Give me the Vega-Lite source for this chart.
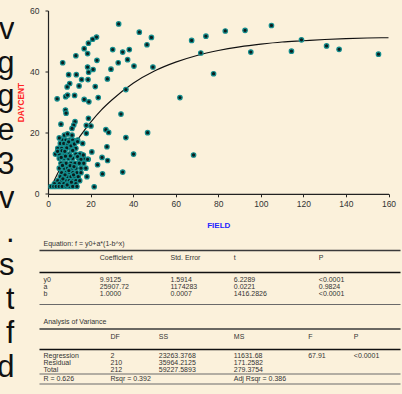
{
  "$schema": "https://vega.github.io/schema/vega-lite/v6.json",
  "background": "#FBF1DB",
  "padding": {"left": 0, "top": 6.5, "right": 0, "bottom": 0},
  "autosize": {"type": "pad"},
  "config": {"view": {"stroke": null}, "font": "Liberation Sans"},
  "datasets": {
    "letters": [
      {"i": 0, "ch": "v"}, {"i": 1, "ch": "g"}, {"i": 2, "ch": "g"}, {"i": 3, "ch": "e"},
      {"i": 4, "ch": "3"}, {"i": 5, "ch": "v"}, {"i": 6, "ch": "."}, {"i": 7, "ch": "s"},
      {"i": 8, "ch": "t"}, {"i": 9, "ch": "f"}, {"i": 10, "ch": "d"}
    ],
    "curve": [
      {"x": 2, "y": 3.0}, {"x": 5, "y": 7.3}, {"x": 10, "y": 13.5}, {"x": 15, "y": 18.8},
      {"x": 20, "y": 23.4}, {"x": 25, "y": 27.4}, {"x": 30, "y": 30.7}, {"x": 40, "y": 36.2},
      {"x": 50, "y": 40.2}, {"x": 60, "y": 43.1}, {"x": 70, "y": 45.3}, {"x": 80, "y": 46.9},
      {"x": 90, "y": 48.1}, {"x": 100, "y": 49.0}, {"x": 110, "y": 49.7}, {"x": 120, "y": 50.1},
      {"x": 130, "y": 50.5}, {"x": 140, "y": 50.8}, {"x": 150, "y": 51.0}, {"x": 160, "y": 51.1}
    ],
    "pts": [
      {"x": 33.2, "y": 55.6}, {"x": 22.8, "y": 51.3}, {"x": 21.0, "y": 50.6}, {"x": 19.0, "y": 49.3},
      {"x": 17.0, "y": 47.5}, {"x": 18.6, "y": 45.9}, {"x": 13.1, "y": 45.2}, {"x": 6.9, "y": 42.9},
      {"x": 23.0, "y": 43.7}, {"x": 30.4, "y": 47.2}, {"x": 35.1, "y": 46.4}, {"x": 38.2, "y": 47.2},
      {"x": 42.9, "y": 52.9}, {"x": 48.6, "y": 51.2}, {"x": 46.5, "y": 48.8}, {"x": 33.0, "y": 42.9},
      {"x": 37.4, "y": 43.9}, {"x": 40.4, "y": 41.8}, {"x": 49.3, "y": 41.5}, {"x": 29.6, "y": 40.8},
      {"x": 18.6, "y": 41.5}, {"x": 21.2, "y": 40.7}, {"x": 19.1, "y": 39.8}, {"x": 13.3, "y": 39.0},
      {"x": 9.7, "y": 39.0}, {"x": 15.8, "y": 37.4}, {"x": 18.8, "y": 37.4}, {"x": 27.9, "y": 37.6},
      {"x": 10.2, "y": 36.1}, {"x": 9.0, "y": 35.0}, {"x": 14.6, "y": 35.3}, {"x": 22.2, "y": 35.1},
      {"x": 36.6, "y": 34.1}, {"x": 4.3, "y": 31.1}, {"x": 8.3, "y": 31.8}, {"x": 9.2, "y": 32.3},
      {"x": 12.5, "y": 32.2}, {"x": 17.0, "y": 30.9}, {"x": 19.2, "y": 30.1}, {"x": 23.6, "y": 31.5},
      {"x": 62.0, "y": 31.5}, {"x": 8.2, "y": 27.4}, {"x": 8.5, "y": 26.4}, {"x": 34.3, "y": 26.1},
      {"x": 19.0, "y": 24.7}, {"x": 6.1, "y": 22.8}, {"x": 12.7, "y": 23.6}, {"x": 12.1, "y": 22.5},
      {"x": 11.3, "y": 21.4}, {"x": 18.0, "y": 22.4}, {"x": 20.2, "y": 22.2}, {"x": 27.2, "y": 21.0},
      {"x": 28.5, "y": 20.1}, {"x": 46.8, "y": 20.0}, {"x": 18.0, "y": 19.8}, {"x": 11.3, "y": 19.2},
      {"x": 36.6, "y": 18.4}, {"x": 27.7, "y": 15.4}, {"x": 20.6, "y": 13.7}, {"x": 40.2, "y": 13.0},
      {"x": 68.4, "y": 12.7}, {"x": 25.4, "y": 11.9}, {"x": 28.0, "y": 10.9}, {"x": 23.3, "y": 9.5},
      {"x": 18.9, "y": 11.3}, {"x": 25.6, "y": 6.5}, {"x": 35.1, "y": 7.1}, {"x": 21.7, "y": 2.3},
      {"x": 18.3, "y": 5.6},
      {"x": 74.2, "y": 51.6}, {"x": 83.3, "y": 53.3}, {"x": 92.6, "y": 53.5}, {"x": 105.0, "y": 55.1},
      {"x": 71.8, "y": 46.1}, {"x": 77.8, "y": 39.3}, {"x": 95.3, "y": 46.4}, {"x": 114.4, "y": 46.7},
      {"x": 119.1, "y": 50.4}, {"x": 130.9, "y": 48.4}, {"x": 136.8, "y": 47.3}, {"x": 155.3, "y": 45.7},
      {"x": 67.5, "y": 50.2},
      {"x": 6.9, "y": 17.6}, {"x": 8.45, "y": 17.6}, {"x": 10.0, "y": 17.6}, {"x": 11.6, "y": 17.6}, {"x": 13.9, "y": 17.6},
      {"x": 5.8, "y": 16.5}, {"x": 7.4, "y": 16.5}, {"x": 9.2, "y": 16.5}, {"x": 12.1, "y": 16.5}, {"x": 16.3, "y": 16.5},
      {"x": 4.6, "y": 14.9}, {"x": 6.4, "y": 14.9}, {"x": 8.5, "y": 14.9}, {"x": 10.8, "y": 14.9}, {"x": 13.1, "y": 14.9},
      {"x": 3.5, "y": 13.0}, {"x": 5.3, "y": 13.0}, {"x": 7.7, "y": 13.0}, {"x": 10.0, "y": 13.0}, {"x": 13.1, "y": 13.0}, {"x": 15.5, "y": 13.0},
      {"x": 5.3, "y": 11.6}, {"x": 7.4, "y": 11.6}, {"x": 9.6, "y": 11.6}, {"x": 11.6, "y": 11.6}, {"x": 14.4, "y": 11.6}, {"x": 16.8, "y": 11.6},
      {"x": 6.1, "y": 10.0}, {"x": 8.5, "y": 10.0}, {"x": 10.8, "y": 10.0}, {"x": 12.7, "y": 10.0}, {"x": 14.7, "y": 10.0}, {"x": 16.8, "y": 10.0},
      {"x": 5.3, "y": 8.4}, {"x": 7.7, "y": 8.4}, {"x": 9.2, "y": 8.4}, {"x": 11.1, "y": 8.4}, {"x": 13.1, "y": 8.4}, {"x": 15.5, "y": 8.4}, {"x": 17.8, "y": 8.4},
      {"x": 6.4, "y": 6.9}, {"x": 8.5, "y": 6.9}, {"x": 10.0, "y": 6.9}, {"x": 11.6, "y": 6.9}, {"x": 13.6, "y": 6.9}, {"x": 15.5, "y": 6.9},
      {"x": 5.8, "y": 5.6}, {"x": 7.7, "y": 5.6}, {"x": 9.2, "y": 5.6}, {"x": 10.8, "y": 5.6}, {"x": 12.4, "y": 5.6}, {"x": 14.2, "y": 5.6},
      {"x": 4.6, "y": 4.3}, {"x": 6.4, "y": 4.3}, {"x": 8.5, "y": 4.3}, {"x": 10.0, "y": 4.3}, {"x": 11.6, "y": 4.3}, {"x": 13.1, "y": 4.3}, {"x": 14.9, "y": 4.3},
      {"x": 3.0, "y": 3.3}, {"x": 5.3, "y": 3.3}, {"x": 7.4, "y": 3.3}, {"x": 9.2, "y": 3.3}, {"x": 11.1, "y": 3.3}, {"x": 13.1, "y": 3.3},
      {"x": 1.4, "y": 2.4}, {"x": 2.7, "y": 2.4}, {"x": 3.9, "y": 2.4}, {"x": 5.3, "y": 2.4}, {"x": 6.7, "y": 2.4}, {"x": 8.5, "y": 2.4}, {"x": 10.0, "y": 2.4}, {"x": 11.6, "y": 2.4}, {"x": 13.6, "y": 2.4},
      {"x": 4.5, "y": 13.9}, {"x": 6.6, "y": 14.1}, {"x": 8.8, "y": 15.0}, {"x": 10.8, "y": 15.7}, {"x": 12.4, "y": 16.3},
      {"x": 13.9, "y": 17.1}, {"x": 15.0, "y": 13.0}, {"x": 13.9, "y": 12.2}, {"x": 15.5, "y": 11.3}, {"x": 16.6, "y": 12.7},
      {"x": 18.6, "y": 11.3}, {"x": 14.7, "y": 10.0}, {"x": 7.7, "y": 19.2}, {"x": 9.2, "y": 19.6}, {"x": 5.3, "y": 18.3},
      {"x": 8.0, "y": 6.2}, {"x": 9.8, "y": 7.6}, {"x": 11.0, "y": 3.8}, {"x": 7.0, "y": 4.9}, {"x": 12.0, "y": 6.2},
      {"x": 9.0, "y": 2.9}, {"x": 10.4, "y": 9.2}, {"x": 6.8, "y": 9.3}, {"x": 12.2, "y": 8.9}, {"x": 8.2, "y": 12.3},
      {"x": 10.5, "y": 12.4}, {"x": 6.2, "y": 11.9}, {"x": 11.6, "y": 14.2}, {"x": 9.7, "y": 17.0}, {"x": 7.9, "y": 13.9}
    ],
    "cells": [
      {"r": 0, "c": 0, "t": "Equation:  f = y0+a*(1-b^x)"},
      {"r": 2, "c": 1, "t": "Coefficient"}, {"r": 2, "c": 4, "t": "Std. Error"}, {"r": 2, "c": 5, "t": "t"}, {"r": 2, "c": 7, "t": "P"},
      {"r": 4, "c": 0, "t": "y0"}, {"r": 4, "c": 1, "t": "9.9125"}, {"r": 4, "c": 4, "t": "1.5914"}, {"r": 4, "c": 5, "t": "6.2289"}, {"r": 4, "c": 7, "t": "<0.0001"},
      {"r": 5, "c": 0, "t": "a"}, {"r": 5, "c": 1, "t": "25907.72"}, {"r": 5, "c": 4, "t": "1174283"}, {"r": 5, "c": 5, "t": "0.0221"}, {"r": 5, "c": 7, "t": "0.9824"},
      {"r": 6, "c": 0, "t": "b"}, {"r": 6, "c": 1, "t": "1.0000"}, {"r": 6, "c": 4, "t": "0.0007"}, {"r": 6, "c": 5, "t": "1416.2826"}, {"r": 6, "c": 7, "t": "<0.0001"},
      {"r": 8, "c": 0, "t": "Analysis of Variance"},
      {"r": 10, "c": 2, "t": "DF"}, {"r": 10, "c": 3, "t": "SS"}, {"r": 10, "c": 5, "t": "MS"}, {"r": 10, "c": 6, "t": "F"}, {"r": 10, "c": 8, "t": "P"},
      {"r": 12, "c": 0, "t": "Regression"}, {"r": 12, "c": 2, "t": "2"}, {"r": 12, "c": 3, "t": "23263.3768"}, {"r": 12, "c": 5, "t": "11631.68"}, {"r": 12, "c": 6, "t": "67.91"}, {"r": 12, "c": 8, "t": "<0.0001"},
      {"r": 13, "c": 0, "t": "Residual"}, {"r": 13, "c": 2, "t": "210"}, {"r": 13, "c": 3, "t": "35964.2125"}, {"r": 13, "c": 5, "t": "171.2582"},
      {"r": 14, "c": 0, "t": "Total"}, {"r": 14, "c": 2, "t": "212"}, {"r": 14, "c": 3, "t": "59227.5893"}, {"r": 14, "c": 5, "t": "279.3754"},
      {"r": 16, "c": 0, "t": "R = 0.626"}, {"r": 16, "c": 2, "t": "Rsqr = 0.392"}, {"r": 16, "c": 5, "t": "Adj Rsqr = 0.386"}
    ],
    "rules": [
      {"r": 1, "k": "mid"}, {"r": 3, "k": "thick"}, {"r": 7, "k": "thin"}, {"r": 9, "k": "mid"},
      {"r": 11, "k": "thick"}, {"r": 15, "k": "thin"}, {"r": 17, "k": "thin"}
    ]
  },
  "spacing": 33,
  "bounds": "flush",
  "hconcat": [
    {
      "width": 14.5,
      "height": 383.3,
      "data": {"name": "letters"},
      "mark": {"type": "text", "clip": true, "align": "right", "baseline": "alphabetic", "fontSize": 31, "font": "Liberation Sans", "color": "#111111"},
      "encoding": {
        "x": {"value": "width"},
        "y": {"field": "i", "type": "quantitative", "scale": {"domain": [0, 10], "range": [28.3, 366.3], "zero": false, "nice": false}, "axis": null},
        "text": {"field": "ch"}
      }
    },
    {
      "spacing": 40,
      "bounds": "flush",
      "vconcat": [
        {
          "width": 340.5,
          "height": 183.3,
          "encoding": {
            "x": {
              "field": "x", "type": "quantitative",
              "scale": {"domain": [0, 160], "nice": false, "zero": false},
              "axis": {
                "title": "FIELD", "values": [0, 20, 40, 60, 80, 100, 120, 140, 160], "grid": false,
                "tickSize": 3, "tickColor": "#222222", "domainColor": "#222222", "domainWidth": 1.2,
                "labelFontSize": 8.5, "labelColor": "#333333", "labelPadding": 3, "labelFlush": false, "labelOverlap": false,
                "labelFont": "Liberation Sans", "titleFont": "Liberation Sans",
                "titleColor": "#2424ff", "titleFontSize": 8, "titleFontWeight": "bold", "titlePadding": 13
              }
            },
            "y": {
              "field": "y", "type": "quantitative",
              "scale": {"domain": [0, 60], "nice": false, "zero": false},
              "axis": {
                "title": "DAYCENT", "values": [0, 20, 40, 60], "grid": false,
                "tickSize": 3, "tickColor": "#222222", "domainColor": "#222222", "domainWidth": 1.2,
                "labelFontSize": 8.5, "labelColor": "#333333", "labelPadding": 6, "labelFlush": false, "labelOverlap": false,
                "labelFont": "Liberation Sans", "titleFont": "Liberation Sans",
                "titleColor": "#ff2525", "titleFontSize": 8.3, "titleFontWeight": "bold", "titlePadding": 4.5
              }
            }
          },
          "layer": [
            {
              "data": {"name": "curve"},
              "mark": {"type": "line", "color": "#111111", "strokeWidth": 1.1, "interpolate": "monotone"}
            },
            {
              "data": {"name": "pts"},
              "mark": {"type": "circle", "size": 20, "fill": "#0b1e1e", "stroke": "#148e8e", "strokeWidth": 1.2, "opacity": 1}
            }
          ]
        },
        {
          "width": 354.5,
          "height": 160,
          "layer": [
            {
              "data": {"name": "rules"},
              "mark": {"type": "rule"},
              "encoding": {
                "x": {"datum": -1, "type": "quantitative", "axis": null,
                      "scale": {"domain": [-1, 0, 1, 2, 3, 4, 5, 6, 7, 8, 9], "range": [-8.5, -4.5, 51.8, 62.5, 110.8, 122.5, 185.8, 260.2, 270.8, 305.8, 352.5], "zero": false, "nice": false}},
                "x2": {"datum": 9},
                "y": {"field": "r", "type": "quantitative", "axis": null,
                      "scale": {"domain": [0, 1, 2, 3, 4, 5, 6, 7, 8, 9, 10, 11, 12, 13, 14, 15, 16, 17], "range": [9, 16, 23, 38, 45.5, 52.5, 59.5, 70, 87, 94.5, 102, 115, 121.5, 128.5, 135.5, 139.5, 144.5, 149.5], "zero": false, "nice": false}},
                "color": {"field": "k", "type": "nominal", "legend": null, "scale": {"domain": ["thick", "mid", "thin"], "range": ["#111111", "#3a3a3a", "#6a6a6a"]}},
                "strokeWidth": {"field": "k", "type": "ordinal", "legend": null, "scale": {"domain": ["thick", "mid", "thin"], "range": [1.7, 1.2, 0.9]}}
              }
            },
            {
              "data": {"name": "cells"},
              "mark": {"type": "text", "align": "left", "baseline": "middle", "fontSize": 7, "font": "Liberation Sans", "color": "#333333"},
              "encoding": {
                "x": {"field": "c", "type": "quantitative", "axis": null,
                      "scale": {"domain": [-1, 0, 1, 2, 3, 4, 5, 6, 7, 8, 9], "range": [-8.5, -4.5, 51.8, 62.5, 110.8, 122.5, 185.8, 260.2, 270.8, 305.8, 352.5], "zero": false, "nice": false}},
                "y": {"field": "r", "type": "quantitative", "axis": null,
                      "scale": {"domain": [0, 1, 2, 3, 4, 5, 6, 7, 8, 9, 10, 11, 12, 13, 14, 15, 16, 17], "range": [9, 16, 23, 38, 45.5, 52.5, 59.5, 70, 87, 94.5, 102, 115, 121.5, 128.5, 135.5, 139.5, 144.5, 149.5], "zero": false, "nice": false}},
                "text": {"field": "t"}
              }
            }
          ]
        }
      ]
    }
  ]
}
